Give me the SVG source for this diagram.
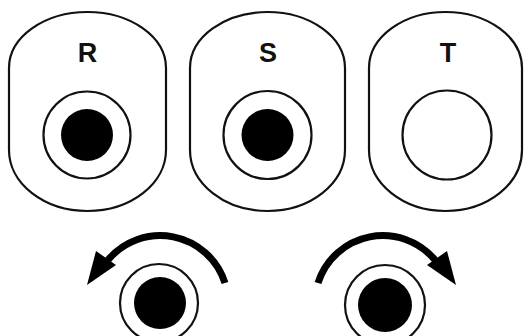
<svg xmlns="http://www.w3.org/2000/svg" width="525" height="336" viewBox="0 0 525 336">
<style>
.outline{fill:none;stroke:#111;stroke-width:2.2}
.ring{fill:#fff;stroke:#111;stroke-width:2.2}
.dot{fill:#000}
.lbl{font-family:"Liberation Sans",Arial,sans-serif;font-weight:bold;font-size:27px;fill:#111;text-anchor:middle}
.arc{fill:none;stroke:#000;stroke-width:7}
.head{fill:#000}
</style>
<rect width="525" height="336" fill="#fff"/>
<g id="node-R">
<path class="outline" d="M9,68 A78.5,56 0 0 1 166,68 L166,150 A78.5,61 0 0 1 9,150 Z"/>
<text class="lbl" x="87.5" y="62">R</text>
<circle class="ring" cx="87" cy="135" r="43.5"/>
<circle class="dot" cx="87" cy="135" r="26"/>
</g>
<g id="node-S">
<path class="outline" d="M190,68 A77.5,56 0 0 1 345,68 L345,150 A77.5,61 0 0 1 190,150 Z"/>
<text class="lbl" x="268" y="62">S</text>
<circle class="ring" cx="267.5" cy="135" r="44"/>
<circle class="dot" cx="267.5" cy="135" r="26"/>
</g>
<g id="node-T">
<path class="outline" d="M369,68 A76.5,56 0 0 1 522,68 L522,150 A76.5,61 0 0 1 369,150 Z"/>
<text class="lbl" x="448" y="62">T</text>
<circle class="ring" cx="447" cy="135" r="44.5"/>
</g>
<g id="node-left">
<circle class="ring" cx="159" cy="303" r="39"/>
<circle class="dot" cx="160" cy="303" r="26"/>
</g>
<g id="node-right">
<circle class="ring" cx="385" cy="305" r="40"/>
<circle class="dot" cx="385" cy="305" r="27"/>
</g>
<g id="connectors">
<path class="arc" d="M225,283 A68,68 0 0 0 108,260"/>
<polygon class="head" points="87,285 96,251 106,258 116,265"/>
<path class="arc" d="M318,283 A68,68 0 0 1 435,260"/>
<polygon class="head" points="456,285 447,251 437,258 427,265"/>
</g>
</svg>
